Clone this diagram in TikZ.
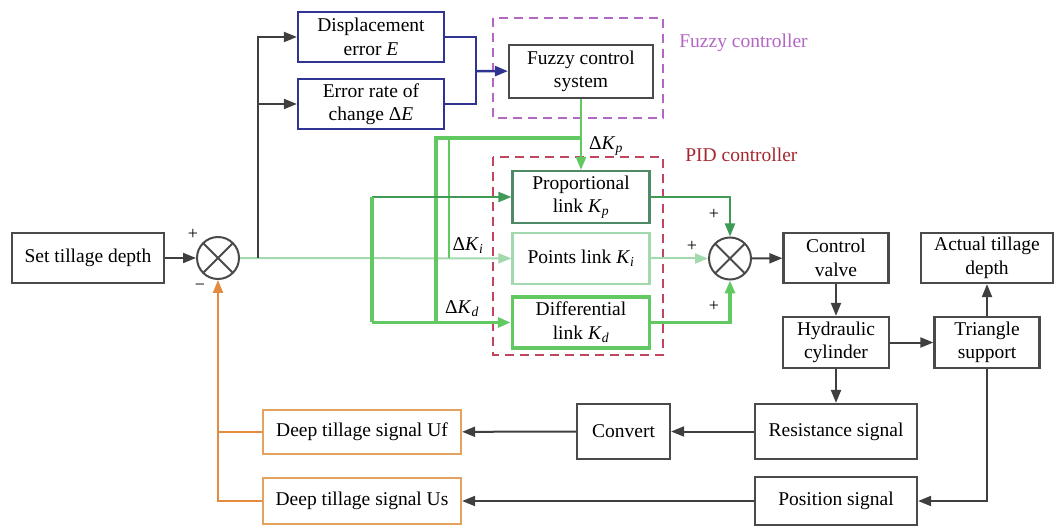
\documentclass[tikz,border=0pt]{standalone}
\usepackage{fontspec}
\setmainfont{Liberation Serif}
\usetikzlibrary{arrows.meta}
\definecolor{ln}{HTML}{3F3F3F}
\definecolor{bx}{HTML}{4A4A4A}
\definecolor{navy}{HTML}{2F3493}
\definecolor{fz}{HTML}{B466C4}
\definecolor{pid}{HTML}{C04660}
\definecolor{pidtxt}{HTML}{A32830}
\definecolor{org}{HTML}{E38B3E}
\definecolor{orgbx}{HTML}{E3A25E}
\definecolor{gA}{HTML}{62C962}
\definecolor{gB}{HTML}{3E9A55}
\definecolor{gC}{HTML}{A3D9AE}
\definecolor{gD}{HTML}{4F8A66}
\tikzset{
  txt/.style={font=\fontsize{19.5}{23.5}\selectfont},
  bk/.style 2 args={draw=bx,line width=2.2pt,fill=white,align=center,inner sep=0pt,txt,minimum width=#1pt,minimum height=#2pt},
  sumc/.style={draw=bx,line width=2pt,circle,minimum size=42pt,inner sep=0pt,
    path picture={\draw[bx,line width=2pt] (path picture bounding box.south west)--(path picture bounding box.north east)
      (path picture bounding box.north west)--(path picture bounding box.south east);}},
  frame/.style={line width=2.4pt,dash pattern=on 9pt off 6pt},
  sg/.style={font=\fontsize{18}{20}\selectfont}
}
\begin{document}
\begin{tikzpicture}[x=1pt,y=-1pt,>={Triangle[length=13pt,width=10pt]},line width=2pt]
\useasboundingbox (0,0) rectangle (1054,526);
\draw[fz,frame] (493,18) rectangle (663,118);
\draw[pid,frame] (493,157) rectangle (663,355);
\node[text=fz,txt,anchor=west] (fzlab) at (675,43) {Fuzzy controller};
\node[text=pidtxt,txt,anchor=west] (pidlab) at (681,155) {PID controller};
\node[bk={152}{50}] (set) at (88,258) {Set tillage depth};
\node[sumc] (sum1) at (218,258) {};
\node[bk={146}{50},draw=navy] (disp) at (371,37) {Displacement\\error \textit{E}};
\node[bk={146}{50},draw=navy] (rate) at (371,104) {Error rate of\\change Δ\textit{E}};
\node[bk={144}{53}] (fuzzy) at (581,71.5) {Fuzzy control\\system};
\node[bk={137}{52},draw=gD] (prop) at (581,197) {Proportional\\link \textit{K}\textsubscript{\textit{p}}};
\node[bk={137}{51},draw=gC] (pts) at (581,258.5) {Points link \textit{K}\textsubscript{\textit{i}}};
\node[bk={137}{51},draw=gA,line width=3.5pt] (diff) at (581,322.5) {Differential\\link \textit{K}\textsubscript{\textit{d}}};
\node[sumc] (sum2) at (730,258.5) {};
\node[bk={105}{50}] (valve) at (836,258) {Control\\valve};
\node[bk={132}{50}] (act) at (987,258) {Actual tillage\\depth};
\node[bk={106}{51}] (hyd) at (836,342.5) {Hydraulic\\cylinder};
\node[bk={105}{51}] (tri) at (987,342.5) {Triangle\\support};
\node[bk={162}{55}] (res) at (836,431.5) {Resistance signal};
\node[bk={93}{55}] (conv) at (623.5,431.5) {Convert};
\node[bk={162}{48}] (pos) at (836,501) {Position signal};
\node[bk={198}{44},draw=orgbx] (uf) at (362,432) {Deep tillage signal Uf};
\node[bk={198}{46},draw=orgbx] (us) at (362,501) {Deep tillage signal Us};
\node[sg] (s1) at (193,234) {+};
\node[sg] (s2) at (200,287) {−};
\node[sg] (s3) at (714,214) {+};
\node[sg] (s4) at (692,246) {+};
\node[sg] (s5) at (714,306) {+};
\node[txt] (dkp) at (606,146) {Δ\textit{K}\textsubscript{\textit{p}}};
\node[txt] (dki) at (468,246) {Δ\textit{K}\textsubscript{\textit{i}}};
\node[txt] (dkd) at (462,309) {Δ\textit{K}\textsubscript{\textit{d}}};
\coordinate (ja) at (258,258);
\coordinate (jb) at (476,71);
\coordinate (jc) at (581,138);
\coordinate (jd) at (372,258);
\coordinate (je) at (436,322.5);
\coordinate (jf) at (449,258.5);
\coordinate (jg) at (218,432);
\draw[ln,->] (set) -- (sum1);
\draw[gC,->] (sum1) -- (pts);
\draw[ln,->] (ja) |- (disp);
\draw[ln,->] (ja |- rate) -- (rate);
\draw[navy,line width=2.5pt] (disp) -| (jb) |- (rate);
\draw[navy,line width=2.5pt,->] (jb) -- (fuzzy);
\draw[gA,line width=2.5pt,->] (fuzzy) -- (prop);
\draw[gA,line width=3.5pt] (jc) -| (je);
\draw[gA,line width=2.5pt] (jc -| jf) -- (jf);
\draw[gB,->] (jd |- prop) -- (prop);
\draw[gA,line width=3.5pt] (jd |- prop) -- (jd |- diff);
\draw[gA,line width=3.5pt,->] (jd |- diff) -- (diff);
\draw[gB,->] (prop) -| (sum2);
\draw[gC,->] (pts) -- (sum2);
\draw[gA,line width=3.5pt,->] (diff) -| (sum2);
\draw[ln,->] (sum2) -- (valve);
\draw[ln,->] (valve) -- (hyd);
\draw[ln,->] (hyd) -- (tri);
\draw[ln,->] (tri) -- (act);
\draw[ln,->] (hyd) -- (res);
\draw[ln,->] (res) -- (conv);
\draw[ln,->] (conv) -- (uf);
\draw[ln,->] (tri) |- (pos);
\draw[ln,->] (pos) -- (us);
\draw[org,->] (us) -| (sum1);
\draw[org] (uf) -- (jg);
\end{tikzpicture}
\end{document}
